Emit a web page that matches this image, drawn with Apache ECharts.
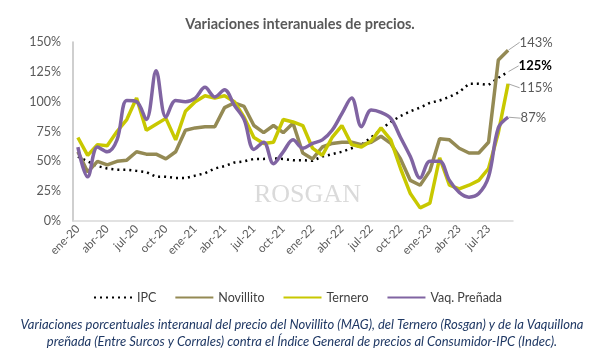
<!DOCTYPE html>
<html>
<head>
<meta charset="utf-8">
<script src="https://cdn.jsdelivr.net/npm/echarts@6/dist/echarts.min.js"></script>
<style>
html,body{margin:0;padding:0;background:#fff;}
#c{width:604px;height:359px;}
</style>
</head>
<body>
<div id="c"></div>
<script>
const months = ['ene-20','feb-20','mar-20','abr-20','may-20','jun-20','jul-20','ago-20','sep-20','oct-20','nov-20','dic-20',
'ene-21','feb-21','mar-21','abr-21','may-21','jun-21','jul-21','ago-21','sep-21','oct-21','nov-21','dic-21',
'ene-22','feb-22','mar-22','abr-22','may-22','jun-22','jul-22','ago-22','sep-22','oct-22','nov-22','dic-22',
'ene-23','feb-23','mar-23','abr-23','may-23','jun-23','jul-23','ago-23','sep-23'];

const ipc = [54,50,46,44,43,43,42,41,37,37,36,36,38,40,44,46,49,50,52,52,52.5,52,51,51,50.5,54,56,58,61,64,70,77,83,88,92,95,99,101,104,108,115,115,114,120,125];
const novillito = [58,41,50,47,50,51,58,56,56,52,58,76,78,79,79,95,99,96,80,74,80,74,82,57,52,62,65,66,66,64,66,71,65,52,34,30,42,69,68,61,57,57,66,135,143];
const ternero = [70,55,64,63,75,85,103,76,81,86,68,92,100,105,103,105,100,87,70,65,66,85,83,80,61,55,70,80,64,62,67,78,68,44,23,11,15,53,30,27,30,34,44,74,115];
const vaquillona = [62,37,62,58,68,101,100,85,126,87,101,100,103,112,104,110,97,85,60,66,48,58,68,61,65,68,76,90,103,79,93,91,86,70,54,36,50,50,34,24,20,23,37,78,87];

const yTicks = [0,25,50,75,100,125,150];
const endLabels = {IPC:'125%', Novillito:'143%', Ternero:'115%', 'Vaq. Preñada':'87%'};

function withEndLabel(arr, name, bold) {
  return arr.map((v, i) => {
    if (i !== arr.length - 1) return v;
    return {
      value: v,
      symbol: 'circle',
      symbolSize: 1,
      itemStyle: {opacity: 0},
      label: {
        show: true,
        position: 'right',
        distance: 2,
        formatter: endLabels[name],
        color: bold ? '#000000' : '#595959',
        opacity: 1,
        fontWeight: bold ? 'bold' : 'normal',
        fontSize: 13,
        fontFamily: 'Lato'
      }
    };
  });
}

const chart = echarts.init(document.getElementById('c'), null, {renderer: 'canvas'});

function mkSeries(name, data, color, width, type, smooth, dx, dy, bold) {
  return {
    name: name,
    type: 'line',
    data: withEndLabel(data, name, bold),
    symbol: 'none',
    showSymbol: true,
    clip: false,
    smooth: smooth,
    lineStyle: {color: color, width: width, type: type, cap: 'butt'},
    itemStyle: {color: color},
    labelLayout: {dx: dx, dy: dy},
    labelLine: {show: true, lineStyle: {color: '#a6a6a6', width: 1}},
    emphasis: {disabled: true},
    z: 2
  };
}

chart.setOption({
  animation: false,
  backgroundColor: '#fff',
  textStyle: {fontFamily: 'Lato'},
  title: {
    text: 'Variaciones interanuales de precios.',
    left: 295, textAlign: 'center', top: 12,
    textStyle: {fontSize: 14.5, fontWeight: 'bold', color: '#595959', fontFamily: 'Lato'}
  },
  grid: {left: 73, right: 91, top: 42, bottom: 138, containLabel: false},
  xAxis: {
    type: 'category',
    data: months,
    boundaryGap: true,
    axisLine: {lineStyle: {color: '#d9d9d9', width: 1.5}},
    axisTick: {show: false},
    axisLabel: {interval: 2, rotate: 45, color: '#595959', fontSize: 11.5, fontFamily: 'Lato', margin: 6}
  },
  yAxis: {
    type: 'value',
    min: yTicks[0], max: yTicks[yTicks.length - 1], interval: 25,
    axisLine: {show: true, lineStyle: {color: '#bfbfbf', width: 1.5}},
    axisTick: {show: false},
    splitLine: {show: false},
    axisLabel: {formatter: '{value}%', color: '#595959', fontSize: 12.5, fontFamily: 'Lato', margin: 12}
  },
  legend: {
    top: 286, left: 88,
    itemWidth: 38, itemHeight: 8, itemGap: 18,
    itemStyle: {opacity: 0},
    textStyle: {color: '#404040', fontSize: 12.5, fontFamily: 'Lato'},
    data: ['IPC', 'Novillito', 'Ternero', 'Vaq. Preñada']
  },
  graphic: [
    {type: 'text', left: 254, top: 182, z: 0, silent: true,
     style: {text: 'ROSGAN', font: '26px "Liberation Serif"', fill: '#dadada'}},
    {type: 'text', left: 'center', top: 316, z: 5,
     style: {text: 'Variaciones porcentuales interanual del precio del Novillito (MAG), del Ternero (Rosgan) y de la Vaquillona\npreñada (Entre Surcos y Corrales) contra el Índice General de precios al Consumidor-IPC (Indec).',
       font: 'italic 13px Lato', fill: '#1f3864', textAlign: 'center', lineHeight: 17}}
  ],
  series: [
    mkSeries('IPC', ipc, '#000000', 2.5, [2, 4], false, 8, -6, true),
    mkSeries('Novillito', novillito, '#948a54', 3.5, 'solid', false, 9, -8, false),
    mkSeries('Ternero', ternero, '#c8c800', 3.5, 'solid', false, 9, 4, false),
    mkSeries('Vaq. Preñada', vaquillona, '#8064a2', 3.5, 'solid', 0.35, 10, 1, false)
  ]
});
</script>
</body>
</html>
